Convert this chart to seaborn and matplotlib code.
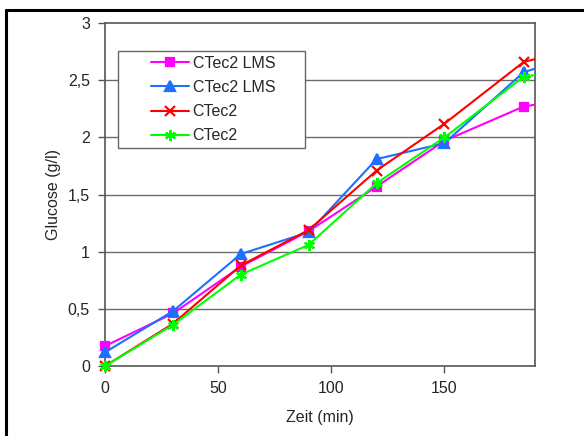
import matplotlib
matplotlib.use('Agg')
import matplotlib.pyplot as plt
import seaborn as sns
from matplotlib.lines import Line2D
from matplotlib.patches import Rectangle
from matplotlib.ticker import FuncFormatter

# Data (last point lies beyond the visible x range)
zeit = [0, 30, 60, 90, 120, 150, 185, 240]
lms_a = [0.175, 0.46, 0.87, 1.18, 1.57, 1.97, 2.27, 2.45]
lms_b = [0.12, 0.48, 0.98, 1.17, 1.81, 1.95, 2.57, 2.92]
ctec_a = [0.0, 0.37, 0.88, 1.19, 1.71, 2.12, 2.66, 2.93]
ctec_b = [0.0, 0.36, 0.80, 1.06, 1.60, 2.00, 2.53, 2.71]

labels = ['CTec2 LMS', 'CTec2 LMS', 'CTec2', 'CTec2']
colors = ['#FF00FF', '#1F6FFF', '#FF0000', '#00FF00']
markers = ['s', '^', 'x', (6, 2, 0)]
msizes = [6, 7, 7, 8]

sns.set_style('white')
plt.rcParams['font.family'] = ['Liberation Sans', 'DejaVu Sans']

fig = plt.figure(figsize=(5.84, 4.36), dpi=100)
ax = fig.add_axes([0.180, 0.1606, 0.736, 0.7864])

# horizontal gridlines
for v in [0.5, 1.0, 1.5, 2.0, 2.5]:
    ax.axhline(v, color='#6b6b6b', lw=1.0, zorder=1)

series = [lms_a, lms_b, ctec_a, ctec_b]
clip = Rectangle((-0.05, -0.05), 1.05, 1.1, transform=ax.transAxes, visible=False)
ax.add_patch(clip)
for vals, lab, col, mk, ms in zip(series, labels, colors, markers, msizes):
    sns.lineplot(x=zeit, y=vals, ax=ax, color=col, marker=mk, markersize=ms,
                 markeredgecolor=col, markeredgewidth=1.6, linewidth=1.5,
                 label=lab, zorder=3)
for line in ax.get_lines()[5:]:
    line.set_clip_path(clip)

ax.set_xlim(0, 190)
ax.set_ylim(0, 3)
ax.set_xticks([0, 50, 100, 150])
ax.set_yticks([0, 0.5, 1, 1.5, 2, 2.5, 3])
ax.yaxis.set_major_formatter(FuncFormatter(lambda v, p: ('%g' % v).replace('.', ',')))
ax.tick_params(axis='both', direction='out', length=5, width=1, color='#555555',
               labelsize=11.5, pad=6, left=True, bottom=True)

for s in ax.spines.values():
    s.set_color('#555555')
    s.set_linewidth(1.2)

ax.set_xlabel('Zeit (min)', fontsize=11.5, labelpad=10)
ax.set_ylabel('Glucose (g/l)', fontsize=11.5, labelpad=5)

# legend box drawn as a rectangle, legend entries inside without frame
ax.add_patch(Rectangle((0.030, 0.636), 0.435, 0.282, transform=ax.transAxes,
                       facecolor='white', edgecolor='#666666', lw=1.0, zorder=4))
leg = ax.legend(loc='upper left', bbox_to_anchor=(0.107, 0.905), frameon=False,
                fontsize=11.5, handlelength=2.4, handletextpad=0.2, labelspacing=0.58,
                borderpad=0, borderaxespad=0)
leg.set_zorder(5)

# outer frame of the figure
fig.add_artist(Line2D([0.0103, 1.0], [0.977, 0.977], color='black', lw=2.2,
                      transform=fig.transFigure))
fig.add_artist(Line2D([0.0103, 0.0103], [0.0, 0.977], color='black', lw=2.2,
                      transform=fig.transFigure))

fig.savefig('out.png', dpi=100)
